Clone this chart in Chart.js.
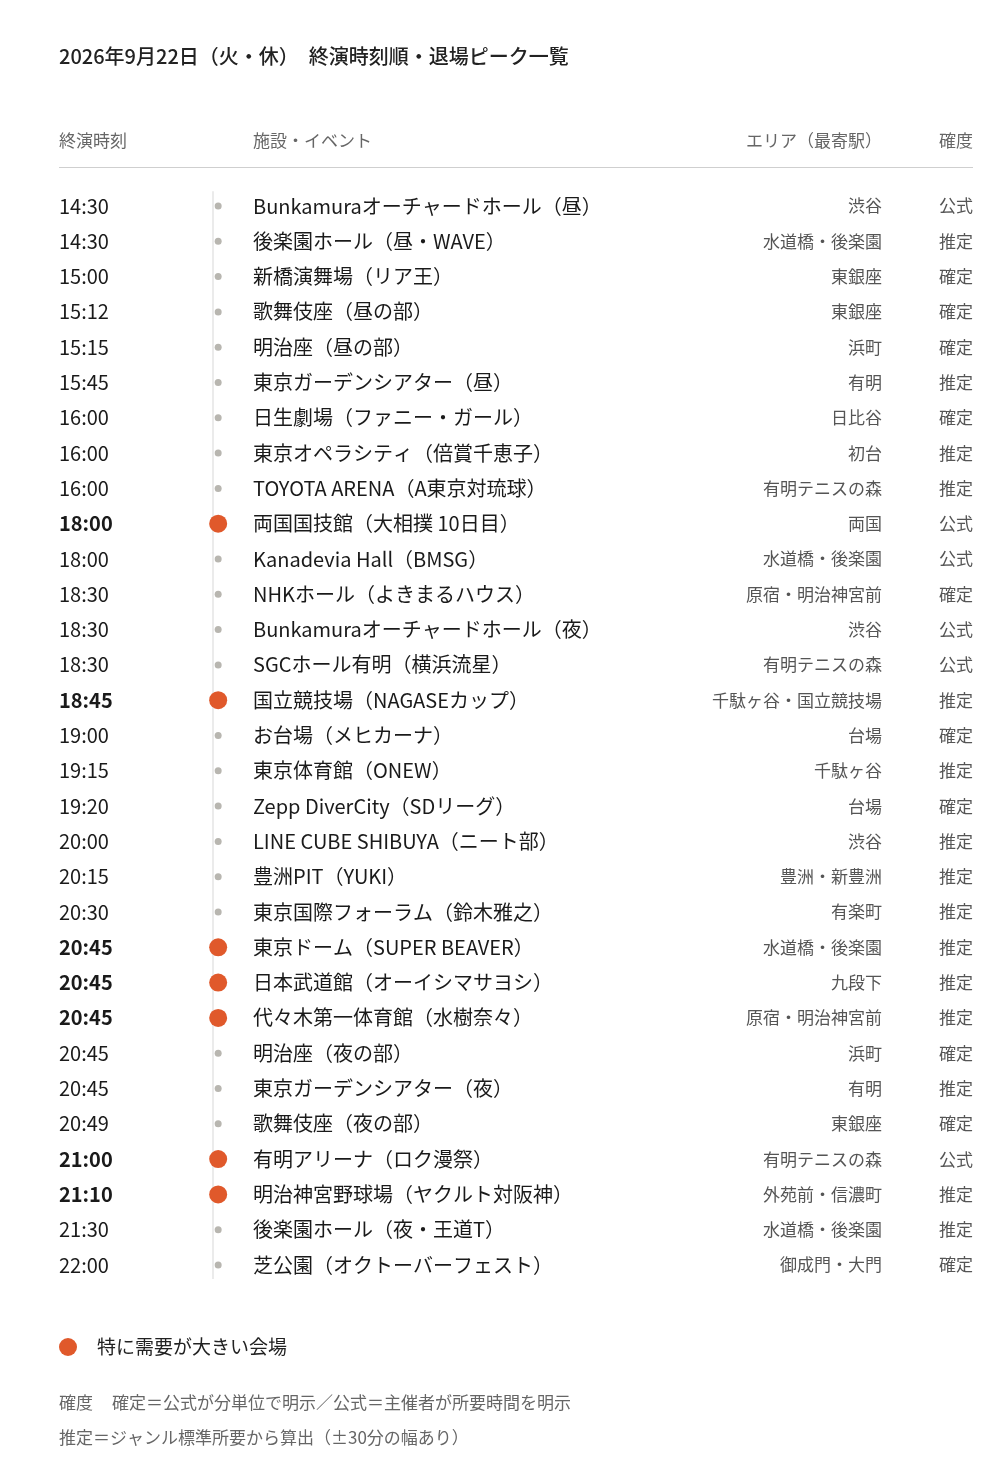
<!DOCTYPE html>
<html><head><meta charset="utf-8">
<script src="https://cdn.jsdelivr.net/npm/chart.js@4"></script>
<style>html,body{margin:0;padding:0;background:#fff}</style>
</head><body>
<canvas id="c" width="1000" height="1471"></canvas>
<script>
const times=["14:30","14:30","15:00","15:12","15:15","15:45","16:00","16:00","16:00","18:00","18:00","18:30","18:30","18:30","18:45","19:00","19:15","19:20","20:00","20:15","20:30","20:45","20:45","20:45","20:45","20:45","20:49","21:00","21:10","21:30","22:00"];
const venues=["Bunkamuraオーチャードホール（昼）","後楽園ホール（昼・WAVE）","新橋演舞場（リア王）","歌舞伎座（昼の部）","明治座（昼の部）","東京ガーデンシアター（昼）","日生劇場（ファニー・ガール）","東京オペラシティ（倍賞千恵子）","TOYOTA ARENA（A東京対琉球）","両国国技館（大相撲 10日目）","Kanadevia Hall（BMSG）","NHKホール（よきまるハウス）","Bunkamuraオーチャードホール（夜）","SGCホール有明（横浜流星）","国立競技場（NAGASEカップ）","お台場（メヒカーナ）","東京体育館（ONEW）","Zepp DiverCity（SDリーグ）","LINE CUBE SHIBUYA（ニート部）","豊洲PIT（YUKI）","東京国際フォーラム（鈴木雅之）","東京ドーム（SUPER BEAVER）","日本武道館（オーイシマサヨシ）","代々木第一体育館（水樹奈々）","明治座（夜の部）","東京ガーデンシアター（夜）","歌舞伎座（夜の部）","有明アリーナ（ロク漫祭）","明治神宮野球場（ヤクルト対阪神）","後楽園ホール（夜・王道T）","芝公園（オクトーバーフェスト）"];
const areas=["渋谷","水道橋・後楽園","東銀座","東銀座","浜町","有明","日比谷","初台","有明テニスの森","両国","水道橋・後楽園","原宿・明治神宮前","渋谷","有明テニスの森","千駄ヶ谷・国立競技場","台場","千駄ヶ谷","台場","渋谷","豊洲・新豊洲","有楽町","水道橋・後楽園","九段下","原宿・明治神宮前","浜町","有明","東銀座","有明テニスの森","外苑前・信濃町","水道橋・後楽園","御成門・大門"];
const certainty=["公式","推定","確定","確定","確定","推定","確定","推定","推定","公式","公式","確定","公式","公式","推定","確定","推定","確定","推定","推定","推定","推定","推定","推定","確定","推定","確定","公式","推定","推定","確定"];
const highlight=[0,0,0,0,0,0,0,0,0,1,0,0,0,0,1,0,0,0,0,0,0,1,1,1,0,0,0,1,1,0,0];
const headers=["終演時刻","施設・イベント","エリア（最寄駅）","確度"];

const F='"Noto Sans CJK JP","Noto Sans",sans-serif';
const ORANGE='#e0592b', GREY='#b8b6b0';
const n=times.length;
const textPlugin={id:'txt',
 beforeDatasetsDraw(ch){
  const c=ch.ctx,y=ch.scales.y;
  c.save();
  c.strokeStyle='#e4e4e4';c.lineWidth=1.5;
  c.beginPath();c.moveTo(213,y.getPixelForValue(-0.5)+3);c.lineTo(213,y.getPixelForValue(n-1+0.4));c.stroke();
  c.restore();
 },
 afterDatasetsDraw(ch){
  const c=ch.ctx,y=ch.scales.y;
  c.save();c.textBaseline='middle';
  c.fillStyle='#222';c.font='500 20px '+F;c.textAlign='left';
  c.fillText('2026年9月22日（火・休）　終演時刻順・退場ピーク一覧',59,56);
  c.fillStyle='#666';c.font='17px '+F;
  c.fillText(headers[0],59,141);c.fillText(headers[1],253,141);
  c.textAlign='right';c.fillText(headers[2],882,141);c.fillText(headers[3],973,141);
  c.strokeStyle='#cfcfcf';c.lineWidth=1;c.beginPath();c.moveTo(59,167.5);c.lineTo(973,167.5);c.stroke();
  for(let i=0;i<n;i++){
   const py=y.getPixelForValue(i);
   c.textAlign='left';c.fillStyle='#1a1a1a';
   c.font=(highlight[i]?'600 ':'400 ')+'20px '+F;c.fillText(times[i],59,py);
   c.font='400 20px '+F;c.fillText(venues[i],253,py);
   c.textAlign='right';c.fillStyle='#555';c.font='17px '+F;
   c.fillText(areas[i],882,py);c.fillText(certainty[i],973,py);
  }
  c.fillStyle=ORANGE;c.beginPath();c.arc(68,1347,9,0,Math.PI*2);c.fill();
  c.textAlign='left';c.fillStyle='#222';c.font='19px '+F;c.fillText('特に需要が大きい会場',97,1347);
  c.fillStyle='#666';c.font='17px '+F;
  c.fillText('確度',59,1403);c.fillText('確定＝公式が分単位で明示／公式＝主催者が所要時間を明示',112,1403);
  c.fillText('推定＝ジャンル標準所要から算出（±30分の幅あり）',59,1438);
  c.restore();
 }};
new Chart(document.getElementById('c'),{
 type:'scatter',
 data:{datasets:[{
  data:times.map((t,i)=>({x:213,y:i})),
  pointRadius:highlight.map(h=>h?9:3.5),
  pointBackgroundColor:highlight.map(h=>h?ORANGE:GREY),
  pointBorderWidth:0,clip:false
 }]},
 options:{responsive:false,animation:false,devicePixelRatio:1,
  layout:{padding:{top:206,bottom:206,left:0,right:0}},
  plugins:{legend:{display:false},tooltip:{enabled:false}},
  scales:{x:{type:'linear',min:0,max:1000,display:false},
          y:{type:'linear',min:0,max:n-1,reverse:true,display:false}}},
 plugins:[textPlugin]
});
</script>
</body></html>
